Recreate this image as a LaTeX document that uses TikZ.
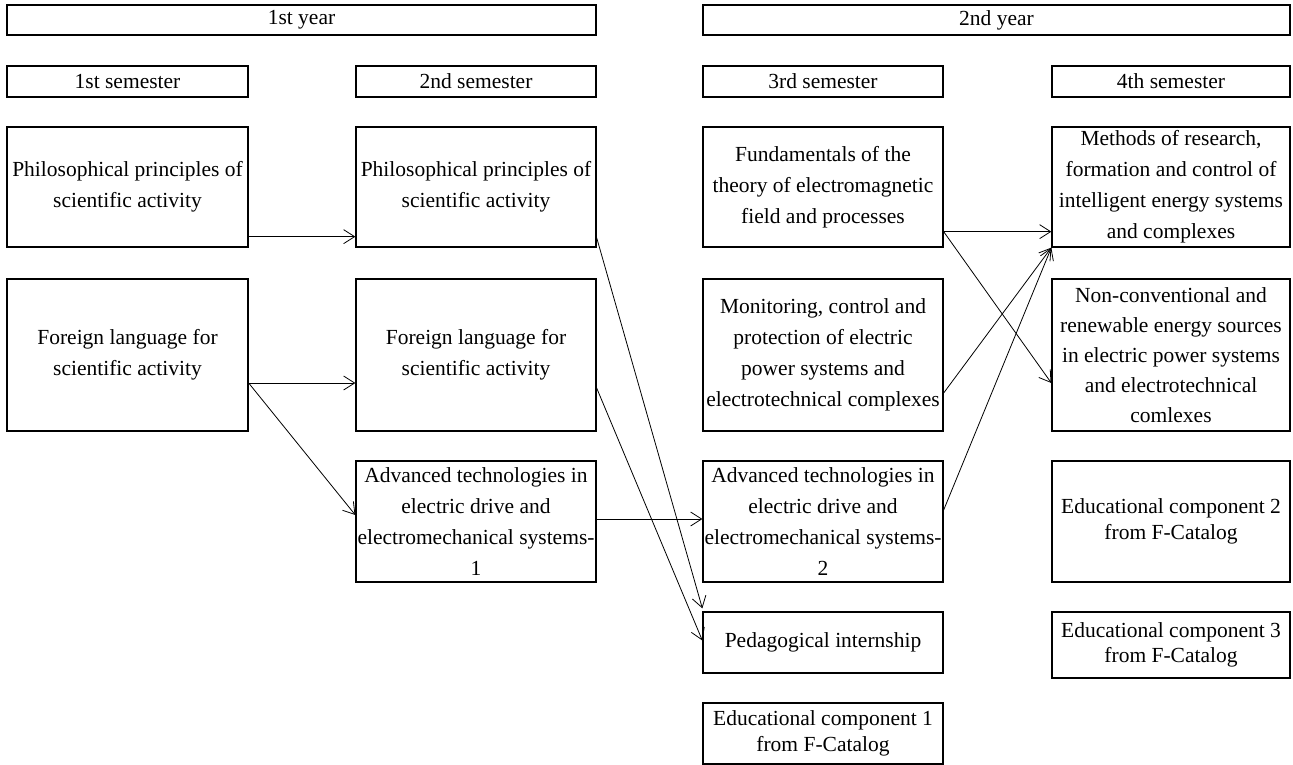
\documentclass[tikz,border=0pt]{standalone}
\usepackage{fontspec}
\setmainfont{Liberation Serif}
\usetikzlibrary{arrows.meta}
\begin{document}
\begin{tikzpicture}[x=1pt,y=-1pt,
  box/.style={draw, line width=1.3pt, inner sep=0pt, align=center, font=\fontsize{21.5}{31}\selectfont},
  tight/.style={font=\fontsize{21.5}{25.5}\selectfont},
  conn/.style={line width=0.8pt, -{Straight Barb[length=11pt,width=14pt]}}]
\useasboundingbox (0,0) rectangle (1293,765);
% headers
\node[box, minimum width=589pt, minimum height=30pt] (year1) at (301.5,20) {1st year};
\node[box, minimum width=587pt, minimum height=30pt] (year2) at (996.5,20) {2nd year};
\node[box, minimum width=241pt, minimum height=31pt] (sem1) at (127.5,81.5) {1st semester};
\node[box, minimum width=240pt, minimum height=31pt] (sem2) at (476,81.5) {2nd semester};
\node[box, minimum width=240pt, minimum height=31pt] (sem3) at (823,81.5) {3rd semester};
\node[box, minimum width=238pt, minimum height=31pt] (sem4) at (1171,81.5) {4th semester};
% column 1
\node[box, minimum width=241pt, minimum height=120pt] (c1r1) at (127.5,187) {Philosophical principles of\\scientific activity};
\node[box, minimum width=241pt, minimum height=152pt] (c1r2) at (127.5,355) {Foreign language for\\scientific activity};
% column 2
\node[box, minimum width=240pt, minimum height=120pt] (c2r1) at (476,187) {Philosophical principles of\\scientific activity};
\node[box, minimum width=240pt, minimum height=152pt] (c2r2) at (476,355) {Foreign language for\\scientific activity};
\node[box, minimum width=240pt, minimum height=121pt] (c2r3) at (476,521.5) {Advanced technologies in\\electric drive and\\electromechanical systems-\\1};
% column 3
\node[box, minimum width=240pt, minimum height=120pt] (c3r1) at (823,187) {Fundamentals of the\\theory of electromagnetic\\field and processes};
\node[box, minimum width=240pt, minimum height=152pt] (c3r2) at (823,355) {Monitoring, control and\\protection of electric\\power systems and\\electrotechnical complexes};
\node[box, minimum width=240pt, minimum height=121pt] (c3r3) at (823,521.5) {Advanced technologies in\\electric drive and\\electromechanical systems-\\2};
\node[box, minimum width=240pt, minimum height=61pt] (c3r4) at (823,642.5) {Pedagogical internship};
\node[box, tight, minimum width=240pt, minimum height=61pt] (c3r5) at (823,733.5) {Educational component 1\\from F-Catalog};
% column 4
\node[box, minimum width=238pt, minimum height=120pt] (c4r1) at (1171,187) {Methods of research,\\formation and control of\\intelligent energy systems\\and complexes};
\node[box, font=\fontsize{21.5}{30}\selectfont, minimum width=238pt, minimum height=152pt] (c4r2) at (1171,355) {Non-conventional and\\renewable energy sources\\in electric power systems\\and electrotechnical\\comlexes};
\node[box, tight, minimum width=238pt, minimum height=121pt] (c4r3) at (1171,521.5) {Educational component 2\\from F-Catalog};
\node[box, tight, minimum width=238pt, minimum height=66pt] (c4r4) at (1171,645) {Educational component 3\\from F-Catalog};
% connectors
\draw[conn] ([yshift=11pt]c1r1.south east) -- ([yshift=11pt]c2r1.south west);
\draw[conn] ([yshift=-28pt]c1r2.east) -- ([yshift=-28pt]c2r2.west);
\draw[conn] ([yshift=-28pt]c1r2.east) -- ([yshift=6.5pt]c2r3.west);
\draw[conn] ([yshift=2.5pt]c2r3.east) -- ([yshift=2.5pt]c3r3.west);
\draw[conn] ([yshift=10pt]c2r1.south east) -- ([yshift=3pt]c3r4.north west);
\draw[conn] ([yshift=-33pt]c2r2.east) -- ([yshift=2pt]c3r4.west);
\draw[conn] ([yshift=16pt]c3r1.south east) -- ([yshift=16pt]c4r1.south west);
\draw[conn] ([yshift=16pt]c3r1.south east) -- ([yshift=-28pt]c4r2.west);
\draw[conn] ([yshift=-38pt]c3r2.east) -- (c4r1.south west);
\draw[conn] ([yshift=11.5pt]c3r3.east) -- (c4r1.south west);
\end{tikzpicture}
\end{document}
